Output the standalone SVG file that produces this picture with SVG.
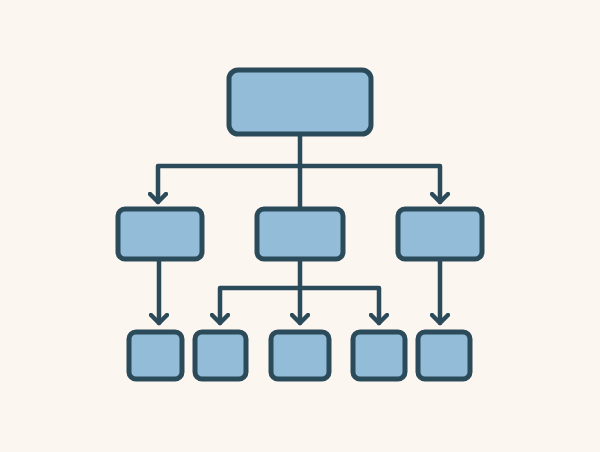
<svg xmlns="http://www.w3.org/2000/svg" width="600" height="452" viewBox="0 0 600 452">
<defs>
<style>
.box{fill:#93bcd9;stroke:#2b4a5a;stroke-width:5}
.ln{fill:none;stroke:#2b4a5a;stroke-width:4.5;stroke-linecap:round;stroke-linejoin:round}
</style>
<marker id="ah" viewBox="0 0 20 20" refX="10" refY="10" markerWidth="20" markerHeight="20" markerUnits="userSpaceOnUse" orient="auto">
<path d="M2,2 L10,10 L2,18" fill="none" stroke="#2b4a5a" stroke-width="4.5" stroke-linecap="round" stroke-linejoin="round"/>
</marker>
</defs>
<rect width="600" height="452" fill="#fcf6f0"/>
<g id="connectors" class="ln">
<path d="M300,136 V207"/>
<path d="M300,166 H158 V202" marker-end="url(#ah)"/>
<path d="M300,166 H440 V202" marker-end="url(#ah)"/>
<path d="M159,260 V323" marker-end="url(#ah)"/>
<path d="M440,260 V323" marker-end="url(#ah)"/>
<path d="M300,260 V323" marker-end="url(#ah)"/>
<path d="M300,288 H220 V323" marker-end="url(#ah)"/>
<path d="M300,288 H379 V323" marker-end="url(#ah)"/>
</g>
<g id="root"><rect class="box" x="229" y="70" width="142" height="64" rx="9"/></g>
<g id="mid-left"><rect class="box" x="118" y="209" width="84" height="50" rx="7"/></g>
<g id="mid-center"><rect class="box" x="257" y="209" width="86" height="50" rx="7"/></g>
<g id="mid-right"><rect class="box" x="398" y="209" width="84" height="50" rx="7"/></g>
<g id="leaf1"><rect class="box" x="129" y="332" width="53" height="47" rx="7"/></g>
<g id="leaf2"><rect class="box" x="195" y="332" width="51" height="47" rx="7"/></g>
<g id="leaf3"><rect class="box" x="271" y="332" width="58" height="47" rx="7"/></g>
<g id="leaf4"><rect class="box" x="353" y="332" width="52" height="47" rx="7"/></g>
<g id="leaf5"><rect class="box" x="418" y="332" width="52" height="47" rx="7"/></g>
</svg>
